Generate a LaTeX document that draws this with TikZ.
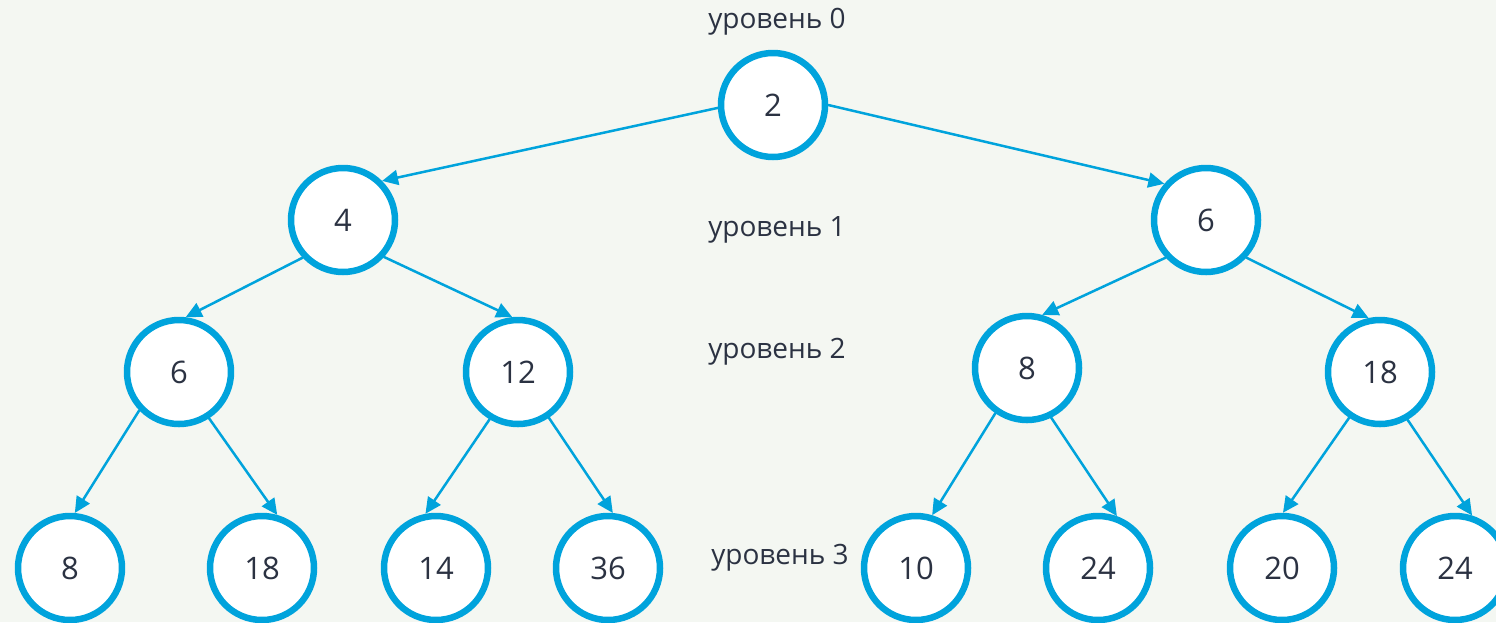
\documentclass[tikz,border=0pt]{standalone}
\usepackage{fontspec}
\setmainfont{Open Sans}
\usetikzlibrary{arrows.meta}
\definecolor{heapblue}{HTML}{00A3DC}
\definecolor{heaptext}{HTML}{2B3242}
\definecolor{heapbg}{HTML}{F4F7F2}
\tikzset{
    vertex/.style={circle, draw=heapblue, line width=6.5pt, fill=white, minimum size=104pt, inner sep=0pt, text=heaptext, font=\fontsize{31}{33}\selectfont},
    edge/.style={heapblue, line width=2.5pt, -{Triangle[length=16pt,width=15pt]}},
    levellabel/.style={text=heaptext, font=\fontsize{28}{30}\selectfont}
}
\begin{document}
\begin{tikzpicture}[line cap=round, line join=round, x=1pt, y=-1pt]

        \fill[heapbg] (0,0) rectangle (1496,622);
        \useasboundingbox (0,0) rectangle (1496,622);

        \node[vertex] (r) at (773,105) {2};

        \node[vertex] (a) at (343,220) {4};
        \node[vertex] (b) at (1206,220) {6};

        \node[vertex] (aa) at (179,372) {6};
        \node[vertex] (ab) at (518,372) {12};
        \node[vertex] (ba) at (1027,368) {8};
        \node[vertex] (bb) at (1380,372) {18};

        \node[vertex] (aaa) at (70,568) {8};
        \node[vertex] (aab) at (262,568) {18};
        \node[vertex] (aba) at (436,568) {14};
        \node[vertex] (abb) at (608,568) {36};
        \node[vertex] (baa) at (916,568) {10};
        \node[vertex] (bab) at (1098,568) {24};
        \node[vertex] (bba) at (1282,568) {20};
        \node[vertex] (bbb) at (1455,568) {24};

        \node[levellabel] (l0) at (777,22) {уровень 0};
        \node[levellabel] (l1) at (777,230) {уровень 1};
        \node[levellabel] (l2) at (777,352) {уровень 2};
        \node[levellabel] (l3) at (780,558) {уровень 3};

        \draw[edge] (r.183) -- (a.45);
        \draw[edge] (r.0) -- (b.139);

        \draw[edge] (a.223) -- (aa.83);
        \draw[edge] (a.318) -- (ab.96);
        \draw[edge] (b.223) -- (ba.74);
        \draw[edge] (b.317) -- (bb.102);

        \draw[edge] (aa.224) -- (aaa.85);
        \draw[edge] (aa.303) -- (aab.74);
        \draw[edge] (ab.239) -- (aba.101);
        \draw[edge] (ab.304) -- (abb.85);
        \draw[edge] (ba.235) -- (baa.73);
        \draw[edge] (ba.296) -- (bab.70);
        \draw[edge] (bb.236) -- (bba.89);
        \draw[edge] (bb.300) -- (bbb.72);

\end{tikzpicture}
\end{document}
